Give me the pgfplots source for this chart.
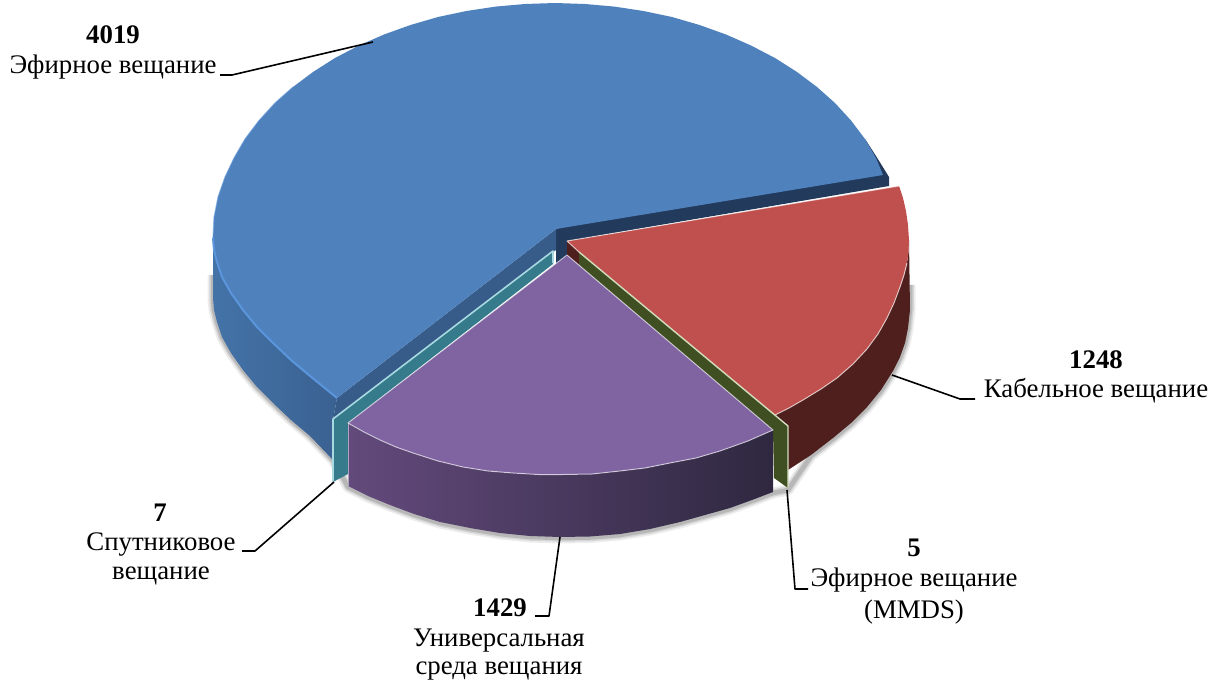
\documentclass[border=0pt]{standalone}
\usepackage{pgfplots}
\pgfplotsset{compat=1.18}
\usepackage{fontspec}
\setmainfont{Liberation Serif}
\definecolor{bluetop}{HTML}{4F81BD}
\definecolor{bluehi}{HTML}{5B95DC}
\definecolor{bluel}{HTML}{4473A8}
\definecolor{bluer}{HTML}{3A6191}
\definecolor{blueface}{HTML}{375C8A}
\definecolor{navy}{HTML}{223A5C}
\definecolor{redtop}{HTML}{C0504D}
\definecolor{redwall}{HTML}{4E1F1D}
\definecolor{purtop}{HTML}{8064A2}
\definecolor{purl}{HTML}{634A7C}
\definecolor{purr}{HTML}{2F2840}
\definecolor{teal2}{HTML}{357B8B}
\definecolor{teallight}{HTML}{A8D8E0}
\definecolor{olive2}{HTML}{3F4F22}
\definecolor{olivelight}{HTML}{D3DDBE}
\begin{document}
\begin{tikzpicture}
\begin{axis}[
  scale only axis, width=1221pt, height=684pt,
  xmin=0, xmax=1221, ymin=0, ymax=684, y dir=reverse,
  hide axis, clip=false,
  every axis plot/.append style={no markers, line join=round, forget plot},
]
\path (axis cs:0,0) rectangle (axis cs:1221,684);
% shadow under the walls
\addplot[draw=black, draw opacity=0.07, line width=11pt] coordinates {(213,275)(213,298)(214,310)(217,322)(222,337)(231,353)(243,370)(257,387)(273,403)(291,420)(310,436)(333,460)(348,487)(368,497)(390,506)(414,515)(440,523)(470,529)(500,534)(530,537)(560,538)(590,537.5)(620,535)(650,530)(680,523)(705,516)(730,509)(752,501)(773,493)(788,490)(811,456)(833,439)(851,424)(867,408)(881,391)(893,372)(900,358)(905,344)(908,329)(910,310)(910,285)};
\addplot[draw=black, draw opacity=0.10, line width=7.5pt] coordinates {(213,275)(213,298)(214,310)(217,322)(222,337)(231,353)(243,370)(257,387)(273,403)(291,420)(310,436)(333,460)(348,487)(368,497)(390,506)(414,515)(440,523)(470,529)(500,534)(530,537)(560,538)(590,537.5)(620,535)(650,530)(680,523)(705,516)(730,509)(752,501)(773,493)(788,490)(811,456)(833,439)(851,424)(867,408)(881,391)(893,372)(900,358)(905,344)(908,329)(910,310)(910,285)};
\addplot[draw=black, draw opacity=0.14, line width=4.5pt] coordinates {(213,275)(213,298)(214,310)(217,322)(222,337)(231,353)(243,370)(257,387)(273,403)(291,420)(310,436)(333,460)(348,487)(368,497)(390,506)(414,515)(440,523)(470,529)(500,534)(530,537)(560,538)(590,537.5)(620,535)(650,530)(680,523)(705,516)(730,509)(752,501)(773,493)(788,490)(811,456)(833,439)(851,424)(867,408)(881,391)(893,372)(900,358)(905,344)(908,329)(910,310)(910,285)};
% blue outer wall
\addplot[draw=none, left color=bluel, right color=bluer] coordinates {(213,238)(214,250)(217,262)(222,277)(231,293)(243,310)(257,327)(273,343)(291,360)(310,376)(337,398)(333,420)(333,460)(310,436)(291,420)(273,403)(257,387)(243,370)(231,353)(222,337)(217,322)(214,310)(213,298)} --cycle;
% blue cut faces
\addplot[draw=none, fill=navy] coordinates {(865,139)(876,156)(889,177)(889,186)(567,241)(567,258)(556,268)(556,229)} --cycle;
\addplot[draw=none, fill=blueface] coordinates {(556,229)(337,398)(333,420)(553,252)(556,250)} --cycle;
% blue top
\addplot[draw=none, fill=bluetop] coordinates {(556,229)(337,398)(310,376)(291,360)(273,343)(257,327)(243,310)(231,293)(222,277)(217,262)(214,250)
(213,238)(214,217.5)(218,197)(225,177)(234,158)(245,139)(259,120.5)(275,103)(293,87)(313,72)(335,58)(359,45.5)(384,34.5)(410.5,25)(438,17)(466.5,11)(495.6,6.6)(525,4)(555,3)(585,4)(614.4,6.6)(643.5,11)(672,17)(699.5,25)(726,34.5)(751,45.5)(775,58)(797,72)(817,87)(835,103)(851,120.5)(865,139)(876,158)(883,175)} --cycle;
\addplot[draw=bluehi, line width=2pt] coordinates {(337,398)(310,376)(291,360)(273,343)(257,327)(243,310)(231,293)(222,277)(217,262)(214,250)(213,238)};
\addplot[draw=bluehi, opacity=0.5, line width=1.2pt] coordinates {(213,238)(214,217.5)(218,197)(225,177)(234,158)(245,139)(259,120.5)(275,103)(293,87)};
% teal slice
\addplot[draw=none, fill=teal2] coordinates {(333,419)(553,251)(553,264)(348,423)(348,474)(333,482)} --cycle;
\addplot[draw=teallight, line width=1.6pt] coordinates {(333,482)(333,419)(553,251)(553,263)};
% red wall
\addplot[draw=none, fill=redwall] coordinates {(909,240)(908.5,252)(907,263)(904,275)(900,287)(894,303)(887,318)(878,334)(867,349)(853,364)(837,378)(821,389)(803,400)(789,408)(775,415)(788,426)(788,470)(811,455)(833,438)(851,423)(867,407)(881,390)(893,371)(900,357)(905,343)(908,328)(910,310)} --cycle;
\addplot[draw=none, fill=redwall] coordinates {(567,241)(579,252)(579,265)(567,255)} --cycle;
% red top
\addplot[draw=none, fill=redtop] coordinates {(567,241)(899,186)(903,198)(906,211)(908,225)(909,240)(908.5,252)(907,263)(904,275)(900,287)(894,303)(887,318)(878,334)(867,349)(853,364)(837,378)(821,389)(803,400)(789,408)(775,415)(579,252)} --cycle;
\addplot[draw=white, draw opacity=0.65, line width=1pt] coordinates {(579,252)(567,241)(899,186)};
\addplot[draw=white, draw opacity=0.65, line width=1pt] coordinates {(907,263)(904,275)(900,287)(894,303)(887,318)(878,334)(867,349)(853,364)(837,378)(821,389)(803,400)(789,408)(775,415)};
% green slice
\addplot[draw=none, fill=olive2] coordinates {(579,252)(788,426)(788,488)(774,478)(773,430)(579,265)} --cycle;
\addplot[draw=olivelight, line width=1.4pt] coordinates {(579,252)(788,426)(788,488)};
% purple wall
\addplot[draw=none, left color=purl, right color=purr] coordinates {(348,423)(364,432)(380,440)(396,447)(413,453)(438,461)(463,467)(488,471)(513,473)(538,474.5)(563,474.5)(592,474)(620,471)(645,468)(670,463)(696,458)(720,451)(748,441)(773,430)(773,492)(752,500)(730,508)(705,515)(680,522)(650,529)(620,534)(590,536.5)(560,537)(530,536)(500,533)(470,528)(440,522)(414,514)(390,505)(368,496)(348,486)} --cycle;
% purple top
\addplot[draw=none, fill=purtop] coordinates {(567,255)(348,423)(364,432)(380,440)(396,447)(413,453)(438,461)(463,467)(488,471)(513,473)(538,474.5)(563,474.5)(592,474)(620,471)(645,468)(670,463)(696,458)(720,451)(748,441)(773,430)} --cycle;
\addplot[draw=white, draw opacity=0.6, line width=1pt] coordinates {(567,255)(348,423)(364,432)(380,440)(396,447)(413,453)(438,461)(463,467)(488,471)(513,473)(538,474.5)(563,474.5)(592,474)(620,471)(645,468)(670,463)(696,458)(720,451)(748,441)(773,430)(567,255)};
\addplot[draw=white, draw opacity=0.5, line width=1pt] coordinates {(348,423)(348,486)};
% leader lines
\addplot[draw=black, line width=1.6pt] coordinates {(220,75)(232,75)(373,42)};
\addplot[draw=black, line width=1.6pt] coordinates {(892,375)(960,399)(975,399)};
\addplot[draw=black, line width=1.6pt] coordinates {(334,482)(255,551)(242,551)};
\addplot[draw=black, line width=1.6pt] coordinates {(560,537)(549,616)(535,616)};
\addplot[draw=black, line width=1.6pt] coordinates {(787,490)(795,589)(808,589)};
% labels
\node[font=\fontsize{26.8}{31}\selectfont\bfseries] at (axis cs:113,35) {4019};
\node[font=\fontsize{26.8}{31}\selectfont] at (axis cs:113,67) {Эфирное вещание};
\node[font=\fontsize{26.8}{31}\selectfont\bfseries] at (axis cs:1096,360) {1248};
\node[font=\fontsize{26.8}{31}\selectfont] at (axis cs:1096,391) {Кабельное вещание};
\node[font=\fontsize{26.8}{31}\selectfont\bfseries] at (axis cs:160,513) {7};
\node[font=\fontsize{26.8}{31}\selectfont] at (axis cs:161,545) {Спутниковое};
\node[font=\fontsize{26.8}{31}\selectfont] at (axis cs:161,576) {вещание};
\node[font=\fontsize{26.8}{31}\selectfont\bfseries] at (axis cs:500,608) {1429};
\node[font=\fontsize{26.8}{31}\selectfont] at (axis cs:499,641) {Универсальная};
\node[font=\fontsize{26.8}{31}\selectfont] at (axis cs:499,671) {среда вещания};
\node[font=\fontsize{26.8}{31}\selectfont\bfseries] at (axis cs:914,548) {5};
\node[font=\fontsize{26.8}{31}\selectfont] at (axis cs:914,580) {Эфирное вещание};
\node[font=\fontsize{26.8}{31}\selectfont] at (axis cs:914,612) {(MMDS)};
\end{axis}
\end{tikzpicture}
\end{document}
